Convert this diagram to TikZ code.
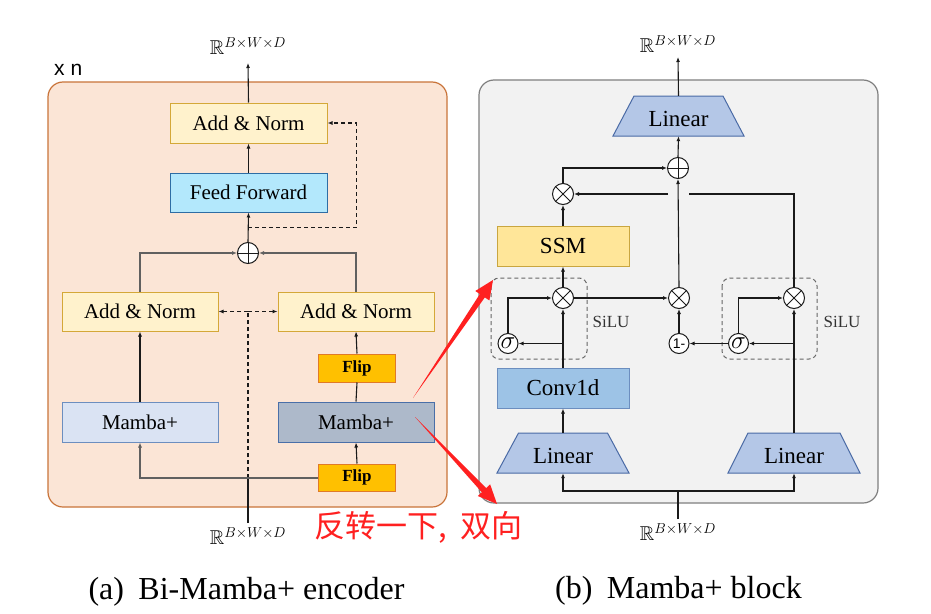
\documentclass[tikz,border=0pt]{standalone}
\usepackage{fontspec}
\usepackage{amssymb}
\setmainfont{Liberation Serif}
\setsansfont{Liberation Sans}
\newfontfamily\cjkfont{Noto Sans CJK SC}
\usetikzlibrary{arrows.meta,calc}
\definecolor{pAfill}{HTML}{FBE5D6}
\definecolor{pAline}{HTML}{C9743A}
\definecolor{pBfill}{HTML}{F2F2F2}
\definecolor{pBline}{HTML}{7F7F7F}
\definecolor{anfill}{HTML}{FFF2CC}
\definecolor{anline}{HTML}{D4A838}
\definecolor{fffill}{HTML}{B3E8FC}
\definecolor{ffline}{HTML}{2E6DA4}
\definecolor{mLfill}{HTML}{DAE3F3}
\definecolor{mLline}{HTML}{6C8EBF}
\definecolor{mRfill}{HTML}{ADB9CA}
\definecolor{mRline}{HTML}{4A6FA8}
\definecolor{flipfill}{HTML}{FFC000}
\definecolor{flipline}{HTML}{E07A28}
\definecolor{ssmfill}{HTML}{FFE699}
\definecolor{ssmline}{HTML}{C9A640}
\definecolor{convfill}{HTML}{9DC3E6}
\definecolor{convline}{HTML}{6C8EBF}
\definecolor{linfill}{HTML}{B4C7E7}
\definecolor{linline}{HTML}{4A6AA5}
\definecolor{redc}{HTML}{FF2020}
\definecolor{lnc}{HTML}{1A1A1A}
\definecolor{gln}{HTML}{606060}
\newcommand\trapnode[5]{%
  \draw[linshape] ({#2-#4},{#3-20}) -- ({#2+#4},{#3-20}) -- ({#2+#5},{#3+20}) -- ({#2-#5},{#3+20}) -- cycle;
  \node[lintext] (#1) at (#2,#3) {\raisebox{-3pt}[15pt][0pt]{Linear}};}
\newcommand\redarrow[2]{%
  \path ($(#2)!19pt!(#1)$) coordinate (rb);
  \fill[redc] (#1) -- ($(rb)!3pt!90:(#2)$) -- ($(rb)!8.5pt!90:(#2)$) -- (#2)
     -- ($(rb)!8.5pt!-90:(#2)$) -- ($(rb)!3pt!-90:(#2)$) -- cycle;}
\begin{document}
\begin{tikzpicture}[x=1pt,y=-1pt,
  >={Latex[length=5pt,width=4pt]},
  blk/.style={rectangle, draw, line width=1pt, inner sep=0pt, font=\fontsize{21}{24}\selectfont},
  anbox/.style={blk, fill=anfill, draw=anline, minimum width=157pt, minimum height=40pt},
  ffbox/.style={blk, fill=fffill, draw=ffline, minimum width=157pt, minimum height=39pt},
  mLbox/.style={blk, fill=mLfill, draw=mLline, minimum width=156pt, minimum height=40pt},
  mRbox/.style={blk, fill=mRfill, draw=mRline, minimum width=156pt, minimum height=40pt},
  flipbox/.style={blk, fill=flipfill, draw=flipline, minimum width=77pt, minimum height=28pt, font=\fontsize{17}{20}\selectfont\bfseries},
  ssmbox/.style={blk, fill=ssmfill, draw=ssmline, minimum width=132pt, minimum height=40pt, font=\fontsize{23}{26}\selectfont},
  convbox/.style={blk, fill=convfill, draw=convline, minimum width=132pt, minimum height=40pt, font=\fontsize{23}{26}\selectfont},
  linshape/.style={fill=linfill, draw=linline, line width=1pt},
  lintext/.style={rectangle, inner sep=0pt, minimum width=100pt, minimum height=40pt, font=\fontsize{23}{26}\selectfont},
  opl/.style={circle, draw=lnc, fill=white, line width=1pt, minimum size=21pt, inner sep=0pt,
    path picture={\draw[line width=1pt, lnc] (path picture bounding box.north) -- (path picture bounding box.south)
      (path picture bounding box.west) -- (path picture bounding box.east);}},
  otm/.style={circle, draw=lnc, fill=white, line width=1pt, minimum size=21pt, inner sep=0pt,
    path picture={\draw[line width=1pt, lnc] (path picture bounding box.north west) -- (path picture bounding box.south east)
      (path picture bounding box.north east) -- (path picture bounding box.south west);}},
  smallc/.style={circle, draw=lnc, fill=white, line width=1pt, minimum size=20pt, inner sep=0pt},
  lbl/.style={inner sep=0pt, font=\fontsize{20}{23}\selectfont},
  conn/.style={draw=lnc, line width=1.1pt},
  gconn/.style={draw=gln, line width=1.5pt},
  dconn/.style={draw=lnc, line width=1.1pt, dash pattern=on 4pt off 3pt},
  silubox/.style={draw=black!60, line width=1pt, dash pattern=on 4pt off 3pt, rounded corners=8pt},
  silu/.style={font=\fontsize{17}{20}\selectfont, text=black!80, anchor=base},
  captext/.style={font=\fontsize{32}{36}\selectfont, anchor=base}
]
\useasboundingbox (0,0) rectangle (931,613);
\fill[white] (0,0) rectangle (931,613);

% ---------- panels ----------
\draw[fill=pAfill, draw=pAline, line width=1.2pt, rounded corners=15pt] (48,82) rectangle (447,507);
\draw[fill=pBfill, draw=pBline, line width=1.2pt, rounded corners=15pt] (479,80) rectangle (878,503);

% ---------- left panel ----------
\node[font=\sffamily\fontsize{21}{24}\selectfont, anchor=base west, inner sep=0pt] (xn) at (54,75) {x n};
\node[lbl, anchor=south, inner ysep=8pt] (rT) at (248,63) {$\mathbb{R}^{B\times W\times D}$};
\node[lbl, anchor=north, inner ysep=4pt] (rB) at (248,523) {$\mathbb{R}^{B\times W\times D}$};

\node[anbox] (an2) at (248.5,123) {Add \& Norm};
\node[ffbox] (ff) at (248.5,192.5) {Feed Forward};
\node[opl] (op1) at (248,253) {};
\node[anbox, minimum width=156pt, minimum height=39pt] (anL) at (140,311.5) {Add \& Norm};
\node[anbox, minimum width=156pt, minimum height=39pt] (anR) at (356,311.5) {Add \& Norm};
\node[mLbox] (mL) at (140,422) {Mamba+};
\node[mRbox] (mR) at (356,422) {Mamba+};
\node[flipbox] (flipT) at (357,368) {Flip};
\node[flipbox, minimum height=27pt] (flipB) at (357,477.5) {Flip};

\draw[conn,->] (an2.north) -- (rT.south);
\draw[conn,->] (ff.north) -- (an2.south);
\draw[conn,->] (op1.north) -- (ff.south);
\coordinate (dA) at ($(op1.north)!0.5!(ff.south)$);
\draw[dconn,->] (dA) -| ([xshift=29pt]an2.east) -- (an2.east);
\draw[gconn,->] (anL.north) |- (op1.west);
\draw[gconn,->] (anR.north) |- (op1.east);
\draw[conn,->] (mL.north) -- (anL.south);
\draw[conn] (mR.north) -- (flipT.south);
\draw[conn,->] (flipT.north) -- (anR.south);
\draw[conn,->] (flipB.north) -- (mR.south);
\coordinate (jB) at (248,478);
\coordinate (jD) at (jB |- anL.east);
\draw[dconn] (jB) -- (jD);
\draw[dconn,->] (jD) -- (anL.east);
\draw[dconn,->] (jD) -- (anR.west);
\draw[conn] (rB.north) -- (jB);
\draw[gconn] (jB) -- (flipB.west |- jB);
\draw[gconn,->] (jB) -| (mL.south);

% ---------- right panel ----------
\node[lbl, anchor=south, inner ysep=4pt] (rT2) at (678,57) {$\mathbb{R}^{B\times W\times D}$};
\node[lbl, anchor=north, inner ysep=4pt] (rB2) at (678,519) {$\mathbb{R}^{B\times W\times D}$};

\trapnode{linT}{678.5}{116}{44.5}{65.5}
\trapnode{linL}{563}{453}{44.5}{66}
\trapnode{linR}{794}{453}{46}{66}

\node[opl] (op2) at (678,168) {};
\node[otm] (otS) at (563,194) {};
\node[ssmbox] (ssm) at (563,246) {SSM};
\draw[silubox] (491,278) rectangle (587,359);
\draw[silubox] (722,278) rectangle (817,359);
\node[otm] (otL) at (563,298) {};
\node[smallc, font=\fontsize{25}{27}\selectfont] (sigL) at (508,343.5) {$\sigma$};
\node[silu] (siluL) at (611,327) {SiLU};
\node[convbox] (conv) at (563,388) {Conv1d};
\node[otm] (otM) at (679,298) {};
\node[smallc, font=\sffamily\fontsize{14}{16}\selectfont] (one) at (679,343.5) {1-};
\node[smallc, font=\fontsize{25}{27}\selectfont] (sigR) at (738.5,343.5) {$\sigma$};
\node[otm] (otR) at (794,298) {};
\node[silu] (siluR) at (842,327) {SiLU};

\draw[conn,->] (linT.north) -- (rT2.south);
\draw[conn,->] (op2.north) -- (linT.south);
\draw[conn,->] (otS.north) |- (op2.west);
\draw[conn,->] (ssm.north) -- (otS.south);
\draw[conn,->] (otL.north) -- (ssm.south);
\draw[conn,->] (conv.north) -- (otL.south);
\coordinate (cL) at (otL |- sigL);
\draw[conn,->] (cL) -- (sigL.east);
\draw[conn,->] (sigL.north) |- (otL.west);
\draw[conn,->] (linL.north) -- (conv.south);
\draw[conn,->] (otL.east) -- (otM.west);
\draw[conn,->] (otM.north) -- (op2.south);
\draw[conn,->] (one.north) -- (otM.south);
\draw[conn,->] (sigR.west) -- (one.east);
\coordinate (cR) at (otR |- sigR);
\draw[conn,->] (cR) -- (sigR.east);
\draw[conn,->] (sigR.north) |- (otR.west);
\draw[conn,->] (linR.north) -- (otR.south);
\coordinate (gR) at (689,194);
\coordinate (gL) at (668,194);
\draw[conn] (otR.north) |- (gR);
\draw[conn,->] (gL) -- (otS.east);
\coordinate (jR) at (678,491);
\draw[conn] (rB2.north) -- (jR);
\draw[conn,->] (jR) -| (linL.south);
\draw[conn,->] (jR) -| (linR.south);

% ---------- red annotation ----------
\coordinate (ra1) at (413,398);
\coordinate (rb1) at (493,280);
\coordinate (ra2) at (415,417);
\coordinate (rb2) at (497,504);
\redarrow{ra1}{rb1}
\redarrow{ra2}{rb2}
\node[text=redc, font=\cjkfont\fontsize{31}{34}\selectfont, inner sep=0pt] (note) at (418.5,527.5) {反转一下,\hspace{0.2em} 双向};

% ---------- captions ----------
\node[captext] (capA) at (246.5,599) {(a)\hspace{0.45em}Bi-Mamba+ encoder};
\node[captext] (capB) at (678.5,598) {(b)\hspace{0.45em}Mamba+ block};
\end{tikzpicture}
\end{document}
